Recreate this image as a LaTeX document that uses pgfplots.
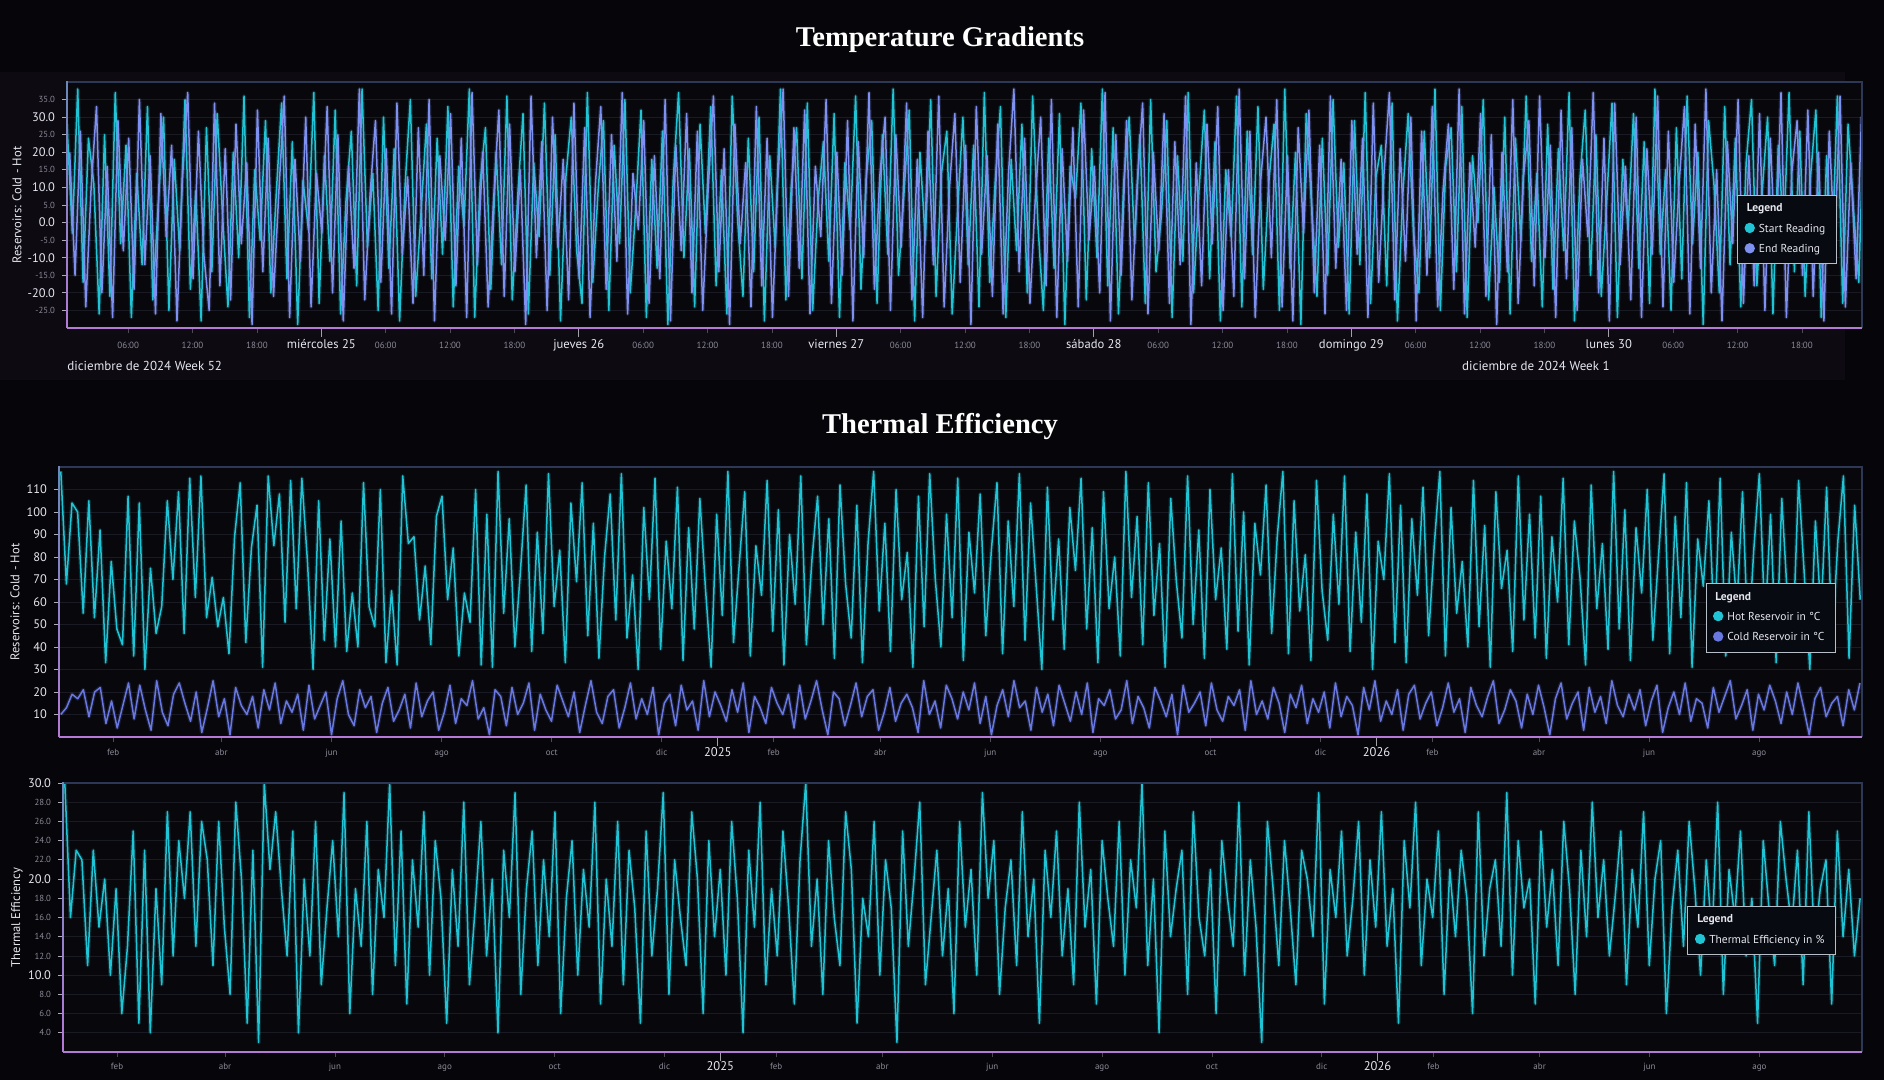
\documentclass[border=0pt]{standalone}
\usepackage{fontspec}
\setmainfont{Liberation Serif}
\setsansfont{PT Sans}
\usepackage{pgfplots}
\usepackage{pgfplotstable}
\pgfplotsset{compat=1.18}

\definecolor{bg}{HTML}{060509}
\definecolor{plotbg}{HTML}{08070C}
\definecolor{panel}{HTML}{0D0A12}
\definecolor{hotc}{HTML}{20C4D4}
\definecolor{endc}{HTML}{7E90F0}
\definecolor{coldc}{HTML}{6878E0}
\definecolor{dimt}{HTML}{8C8A98}
\definecolor{brt}{HTML}{E6E6EE}
\definecolor{framec}{HTML}{2C3856}
\definecolor{leftc}{HTML}{6A88B8}
\definecolor{pinkc}{HTML}{B47AD6}
\definecolor{gridc}{HTML}{1A1A24}
\definecolor{legbg}{HTML}{070A10}
\definecolor{legbd}{HTML}{B8BEC8}

\newcommand\mj[1]{{\color{brt}\fontsize{6.2}{7}\selectfont #1}}
\newcommand\mn[1]{{\color{dimt}\fontsize{4.4}{5}\selectfont #1}}

% Temperature Gradients: Start Reading
\pgfplotstableread[row sep=\\]{
y\\
28\\-3\\38\\-17\\24\\11\\-26\\25\\-21\\37\\-6\\22\\
-27\\14\\-12\\33\\-22\\5\\30\\-25\\18\\-8\\35\\-19\\
9\\-28\\27\\-14\\31\\2\\-24\\20\\-10\\36\\-27\\15\\
-5\\29\\-20\\8\\34\\-16\\23\\-29\\12\\-2\\37\\-23\\
19\\-11\\32\\-26\\6\\26\\-18\\38\\-7\\14\\-25\\30\\
-13\\21\\-28\\10\\35\\-21\\3\\28\\-16\\24\\-9\\33\\
-24\\16\\-1\\38\\-27\\11\\27\\-19\\20\\-12\\36\\-22\\
7\\31\\-26\\17\\-4\\34\\-15\\25\\-28\\13\\30\\-8\\
-23\\37\\-17\\9\\29\\-25\\22\\-6\\35\\-20\\4\\32\\
-27\\18\\-13\\26\\-29\\12\\37\\-10\\21\\-24\\28\\-3\\
33\\-18\\15\\-26\\36\\1\\-21\\24\\-14\\30\\-28\\19\\
-7\\38\\-22\\10\\27\\-16\\34\\-25\\6\\23\\-11\\31\\
-27\\17\\-2\\36\\-19\\13\\29\\-23\\25\\-9\\38\\-15\\
8\\32\\-28\\20\\-5\\35\\-21\\14\\26\\-26\\3\\30\\
-12\\22\\-24\\37\\-17\\11\\33\\-27\\18\\-8\\28\\-20\\
36\\-1\\-25\\24\\-13\\31\\-29\\16\\7\\34\\-22\\21\\
-10\\38\\-18\\27\\-26\\12\\30\\-6\\25\\-23\\35\\-14\\
2\\29\\-27\\19\\-11\\37\\-20\\9\\32\\-16\\23\\-28\\
15\\-4\\36\\-24\\26\\-9\\33\\-19\\11\\28\\-25\\38\\
-13\\20\\-29\\31\\5\\-21\\24\\-15\\35\\-7\\17\\-26\\
29\\-12\\37\\-23\\13\\22\\-18\\34\\-28\\8\\31\\-3\\
-20\\26\\-10\\38\\-25\\16\\27\\-14\\33\\-27\\19\\0\\
35\\-22\\10\\-17\\30\\-26\\24\\-5\\36\\-11\\14\\-24\\
28\\-19\\21\\-8\\37\\-28\\12\\32\\-15\\25\\-21\\6\\
34\\-27\\18\\-2\\31\\-13\\23\\-23\\38\\-9\\15\\-25\\
27\\-16\\36\\-6\\20\\-29\\29\\11\\-20\\33\\-12\\24\\
-24\\17\\35\\-18\\9\\30\\-26\\22\\-4\\37\\-14\\26\\
-21\\13\\32\\-27\\19\\-10\\36\\-23\\28\\4\\-17\\34\\
}\tA

% Temperature Gradients: End Reading
\pgfplotstableread[row sep=\\]{
y\\
20\\-15\\26\\-24\\10\\33\\-20\\16\\-27\\29\\-8\\24\\
-19\\35\\-12\\19\\-26\\31\\-4\\22\\-28\\12\\37\\-16\\
26\\-9\\-25\\34\\-18\\21\\-22\\28\\-6\\17\\-29\\32\\
-14\\24\\-21\\9\\36\\-27\\18\\-11\\30\\-24\\14\\-3\\
33\\-20\\25\\-28\\16\\-13\\38\\-22\\8\\29\\-17\\21\\
-26\\34\\-9\\13\\-23\\27\\-15\\35\\-28\\19\\-5\\31\\
-18\\24\\-27\\37\\-12\\20\\-24\\6\\32\\-21\\28\\-14\\
15\\-29\\36\\-10\\23\\-25\\30\\-7\\18\\-22\\34\\-16\\
27\\-27\\11\\33\\-19\\25\\-11\\37\\-26\\14\\-2\\29\\
-23\\19\\-16\\35\\-28\\22\\-8\\31\\-20\\26\\-25\\9\\
36\\-14\\21\\-29\\28\\-6\\17\\-24\\33\\-18\\24\\-27\\
12\\38\\-21\\27\\-13\\32\\-26\\16\\-4\\35\\-23\\20\\
-15\\29\\-28\\23\\-10\\37\\-19\\13\\30\\-25\\25\\-7\\
34\\-22\\18\\-27\\26\\-12\\36\\-24\\10\\31\\-17\\22\\
-29\\33\\-9\\19\\-21\\28\\-26\\14\\38\\-14\\24\\-23\\
7\\30\\-18\\35\\-27\\21\\-11\\27\\-24\\32\\-5\\16\\
-20\\37\\-28\\25\\-15\\29\\-22\\11\\34\\-26\\20\\-8\\
31\\-23\\23\\-12\\36\\-29\\17\\-18\\28\\-6\\33\\-25\\
15\\-21\\38\\-16\\26\\-27\\12\\30\\-10\\35\\-24\\19\\
-28\\27\\-3\\32\\-20\\22\\-26\\36\\-13\\18\\-25\\29\\
-9\\24\\-27\\34\\-17\\14\\37\\-22\\21\\-11\\30\\-28\\
26\\-15\\33\\-24\\9\\28\\-19\\38\\-26\\17\\-7\\31\\
-21\\25\\-29\\20\\-14\\35\\-23\\13\\29\\-18\\36\\-10\\
22\\-27\\32\\-16\\27\\-25\\18\\-4\\37\\-20\\24\\-28\\
34\\-12\\16\\-22\\30\\-27\\21\\-9\\36\\-24\\26\\-17\\
11\\33\\-26\\28\\-13\\38\\-20\\15\\-28\\23\\-6\\35\\
-23\\19\\-18\\31\\-25\\24\\-11\\37\\-27\\14\\29\\-15\\
32\\-21\\20\\-28\\26\\-8\\36\\-24\\17\\-16\\30\\-22\\
}\tB

% Hot Reservoir
\pgfplotstableread[row sep=\\]{
y\\
118\\68\\104\\100\\55\\105\\53\\92\\33\\78\\48\\41\\
107\\36\\104\\30\\75\\46\\58\\105\\70\\109\\46\\115\\
62\\116\\53\\71\\49\\62\\37\\89\\113\\42\\84\\103\\
31\\116\\85\\108\\51\\114\\57\\115\\78\\30\\105\\43\\
88\\40\\96\\38\\64\\40\\113\\58\\49\\110\\33\\65\\
32\\116\\86\\89\\52\\76\\41\\98\\107\\61\\84\\36\\
64\\51\\110\\32\\99\\31\\118\\55\\97\\40\\74\\112\\
38\\91\\46\\117\\58\\83\\33\\104\\69\\113\\45\\95\\
35\\80\\108\\52\\117\\44\\72\\30\\102\\61\\115\\39\\
87\\57\\111\\34\\93\\48\\106\\66\\31\\99\\54\\118\\
42\\76\\109\\36\\85\\63\\114\\47\\101\\32\\90\\59\\
116\\41\\79\\107\\50\\97\\35\\112\\68\\44\\103\\33\\
86\\118\\56\\95\\38\\110\\61\\82\\31\\107\\49\\117\\
70\\40\\99\\53\\115\\34\\91\\64\\108\\45\\83\\113\\
37\\96\\58\\117\\43\\104\\67\\30\\111\\52\\88\\39\\
102\\74\\115\\48\\93\\33\\109\\57\\80\\36\\118\\62\\
98\\41\\113\\54\\86\\31\\106\\69\\44\\116\\50\\92\\
35\\110\\61\\84\\39\\117\\47\\100\\32\\95\\72\\112\\
46\\89\\118\\37\\105\\56\\81\\34\\114\\65\\43\\99\\
59\\116\\38\\91\\51\\108\\30\\87\\70\\117\\42\\103\\
33\\97\\63\\111\\45\\85\\118\\36\\102\\55\\78\\40\\
114\\49\\94\\31\\109\\66\\83\\38\\116\\52\\99\\44\\
107\\35\\89\\60\\115\\41\\96\\71\\32\\112\\57\\86\\
39\\118\\48\\101\\34\\93\\64\\110\\43\\80\\117\\37\\
98\\53\\113\\31\\88\\67\\105\\46\\115\\36\\91\\58\\
109\\40\\83\\117\\50\\99\\33\\106\\62\\45\\114\\73\\
30\\96\\55\\111\\42\\87\\116\\35\\103\\61\\
}\tH

% Cold Reservoir
\pgfplotstableread[row sep=\\]{
y\\
10\\13\\19\\17\\21\\9\\20\\22\\6\\16\\4\\14\\
24\\8\\23\\12\\3\\25\\11\\5\\19\\24\\15\\7\\
20\\2\\13\\25\\9\\17\\1\\22\\14\\10\\18\\4\\
21\\12\\24\\6\\16\\11\\19\\3\\23\\8\\14\\20\\
1\\17\\25\\10\\5\\21\\13\\18\\2\\15\\22\\7\\
12\\19\\4\\24\\9\\16\\20\\3\\11\\23\\6\\17\\
14\\25\\8\\13\\1\\21\\18\\5\\22\\10\\15\\24\\
3\\19\\12\\7\\23\\16\\9\\20\\2\\14\\25\\11\\
6\\18\\21\\4\\13\\24\\8\\17\\10\\22\\1\\15\\
19\\5\\23\\12\\16\\3\\25\\9\\20\\14\\7\\21\\
11\\24\\2\\18\\13\\6\\22\\15\\10\\19\\4\\23\\
8\\16\\25\\12\\1\\20\\17\\5\\14\\24\\9\\18\\
21\\3\\11\\22\\7\\15\\19\\13\\2\\25\\10\\16\\
4\\23\\17\\8\\20\\12\\24\\6\\18\\1\\14\\21\\
9\\25\\13\\16\\3\\22\\11\\19\\5\\23\\15\\7\\
20\\10\\24\\2\\17\\14\\21\\8\\12\\25\\6\\18\\
13\\4\\22\\16\\9\\19\\1\\23\\11\\15\\20\\5\\
24\\12\\7\\18\\14\\21\\3\\25\\10\\16\\8\\22\\
15\\2\\19\\13\\23\\6\\17\\11\\20\\4\\24\\9\\
18\\14\\1\\22\\12\\25\\7\\16\\10\\21\\3\\19\\
23\\8\\15\\20\\5\\13\\24\\11\\17\\2\\22\\14\\
9\\18\\25\\6\\12\\21\\16\\4\\19\\10\\23\\13\\
1\\17\\24\\8\\15\\20\\3\\22\\11\\18\\6\\25\\
14\\9\\19\\12\\21\\5\\16\\23\\2\\13\\20\\10\\
24\\7\\17\\15\\4\\22\\11\\18\\25\\8\\14\\21\\
3\\19\\12\\23\\16\\6\\20\\10\\24\\13\\1\\17\\
22\\9\\15\\18\\5\\21\\12\\24\\
}\tC

% Thermal Efficiency
\pgfplotstableread[row sep=\\]{
y\\
30\\16\\23\\22\\11\\23\\15\\20\\10\\19\\6\\13\\
25\\5\\23\\4\\19\\9\\27\\12\\24\\18\\27\\13\\
26\\22\\11\\26\\15\\8\\28\\20\\5\\23\\3\\30\\
21\\27\\19\\12\\25\\4\\20\\12\\26\\9\\17\\24\\
14\\29\\6\\19\\13\\26\\8\\21\\16\\30\\11\\25\\
7\\22\\15\\27\\10\\24\\18\\5\\21\\13\\28\\9\\
17\\26\\12\\20\\4\\23\\16\\29\\8\\19\\25\\11\\
22\\14\\27\\6\\18\\24\\10\\21\\15\\28\\7\\20\\
13\\26\\9\\23\\17\\5\\25\\12\\19\\29\\8\\22\\
16\\11\\27\\20\\6\\24\\14\\21\\10\\26\\18\\4\\
23\\15\\28\\9\\19\\12\\25\\17\\7\\22\\30\\13\\
20\\8\\24\\16\\11\\27\\21\\5\\18\\14\\26\\10\\
22\\17\\3\\25\\13\\20\\28\\9\\16\\23\\12\\19\\
6\\26\\15\\21\\10\\29\\18\\24\\8\\17\\22\\11\\
27\\14\\20\\5\\23\\16\\25\\12\\19\\9\\28\\15\\
21\\7\\24\\18\\13\\26\\10\\22\\17\\30\\11\\20\\
4\\25\\14\\19\\23\\8\\27\\16\\12\\21\\6\\24\\
18\\13\\28\\10\\22\\15\\3\\26\\19\\11\\24\\17\\
9\\23\\20\\14\\29\\7\\21\\16\\25\\12\\18\\26\\
10\\22\\15\\27\\13\\19\\5\\24\\17\\28\\11\\20\\
16\\25\\8\\21\\14\\23\\18\\6\\27\\12\\19\\22\\
13\\29\\10\\24\\17\\20\\7\\25\\15\\21\\11\\26\\
19\\8\\23\\14\\28\\16\\22\\12\\18\\25\\9\\21\\
15\\27\\11\\20\\24\\6\\17\\23\\13\\26\\19\\10\\
22\\14\\28\\8\\21\\16\\25\\12\\18\\5\\24\\17\\
11\\26\\20\\15\\23\\9\\27\\13\\19\\22\\7\\25\\
14\\21\\12\\18\\
}\tE

\pgfplotsset{
  darkax/.style={
    scale only axis, anchor=south west,
    axis line style={draw=none},
    axis background/.style={fill=plotbg},
    tick pos=left, tick align=outside,
    major tick length=2.5pt,
    xtick style={draw=dimt!55!black, line width=0.4pt},
    ytick style={draw=brt!75!black, line width=0.4pt},
    ymajorgrids, grid style={draw=gridc, line width=0.4pt},
    /pgf/number format/assume math mode=true,
    ticklabel style={font=\sffamily},
    xticklabel style={font=\sffamily\fontsize{4.5}{5}\selectfont, text=dimt, anchor=base},
    ylabel style={font=\sffamily\fontsize{6.3}{7}\selectfont, text=brt},
    legend cell align=left,
    legend image code/.code={\fill[##1] (0.06cm,0.03cm) circle (2.2pt);},
    legend style={fill=legbg, draw=legbd, line width=0.5pt, text=brt,
      font=\sffamily\fontsize{5.75}{7}\selectfont, inner xsep=3.5pt, inner ysep=2.2pt,
      row sep=0.6pt, anchor=north east},
    every axis plot/.append style={line join=round},
    after end axis/.append code={
      \draw[framec, line width=0.6pt] (rel axis cs:0,1) -- (rel axis cs:1,1) -- (rel axis cs:1,0);
      \shade[top color=leftc, bottom color=pinkc] ([xshift=-0.45pt]rel axis cs:0,0) rectangle ([xshift=0.45pt]rel axis cs:0,1);
      \draw[pinkc, line width=0.9pt] (rel axis cs:0,0) -- (rel axis cs:1,0);
    },
  },
}

\begin{document}
\begin{tikzpicture}
\useasboundingbox (0,0) rectangle (942pt,540pt);
\fill[bg] (0,0) rectangle (942pt,540pt);
\fill[panel] (0pt,350pt) rectangle (922.5pt,504pt);

\node[font=\bfseries\fontsize{14.3}{16}\selectfont, text=white] at (470pt,520.2pt) {Temperature Gradients};
\node[font=\bfseries\fontsize{14.3}{16}\selectfont, text=white] at (470pt,326.7pt) {Thermal Efficiency};

% ---------- Temperature Gradients ----------
\begin{axis}[darkax, at={(33.5pt,376pt)}, width=897.5pt, height=123pt,
  xmin=0.3, xmax=167.6, ymin=-30, ymax=40,
  ytick={-25,-20,...,35},
  yticklabels={\mn{-25.0},\mj{-20.0},\mn{-15.0},\mj{-10.0},\mn{-5.0},\mj{0.0},\mn{5.0},\mj{10.0},\mn{15.0},\mj{20.0},\mn{25.0},\mj{30.0},\mn{35.0}},
  xtick={6,12,18,30,36,42,54,60,66,78,84,90,102,108,114,126,132,138,150,156,162},
  xticklabels={06:00,12:00,18:00,06:00,12:00,18:00,06:00,12:00,18:00,06:00,12:00,18:00,06:00,12:00,18:00,06:00,12:00,18:00,06:00,12:00,18:00},
  xticklabel style={yshift=-8pt},
  extra x ticks={24,48,72,96,120,144},
  extra x tick labels={miércoles 25,jueves 26,viernes 27,sábado 28,domingo 29,lunes 30},
  extra x tick style={major tick length=4.5pt, xtick style={draw=brt!70!black},
    xticklabel style={font=\sffamily\fontsize{6.3}{7}\selectfont, text=brt, yshift=2pt}},
  ylabel={Reservoirs: Cold - Hot},
  ylabel style={at={([xshift=-25pt]rel axis cs:0,0.5)}, anchor=center},
  legend style={at={(0.986,0.541)}},
  legend entries={\hspace*{-6pt}\textbf{Legend},Start Reading,End Reading},
  after end axis/.append code={
    \node[anchor=base west, inner sep=0pt, font=\sffamily\fontsize{6.5}{7}\selectfont, text=brt] at ([yshift=-21.5pt]rel axis cs:0,0) {diciembre de 2024 Week 52};
    \node[anchor=base east, inner sep=0pt, font=\sffamily\fontsize{6.5}{7}\selectfont, text=brt] at ([yshift=-21.5pt]rel axis cs:0.8596,0) {diciembre de 2024 Week 1};
  },
]
\addlegendimage{empty legend}
\addplot[hotc, opacity=0.18, line width=2pt, forget plot] table[x expr=\coordindex*0.5+0.3, y index=0] {\tA};
\addplot[hotc, line width=0.75pt] table[x expr=\coordindex*0.5+0.3, y index=0] {\tA};
\addplot[endc, opacity=0.18, line width=2pt, forget plot] table[x expr=\coordindex*0.5+0.55, y index=0] {\tB};
\addplot[endc, line width=0.75pt] table[x expr=\coordindex*0.5+0.55, y index=0] {\tB};
\end{axis}

% ---------- Hot / Cold reservoirs ----------
\begin{axis}[darkax, at={(29.5pt,171.5pt)}, width=901.5pt, height=135pt,
  xmin=-365, xmax=634, ymin=0, ymax=120,
  ytick={10,20,...,110},
  yticklabel style={font=\sffamily\fontsize{6.2}{7}\selectfont, text=brt},
  xtick={-335,-275,-214,-153,-92,-31,31,90,151,212,273,334,396,455,516,577},
  xticklabels={feb,abr,jun,ago,oct,dic,feb,abr,jun,ago,oct,dic,feb,abr,jun,ago},
  xticklabel style={yshift=-7pt},
  extra x ticks={0,365},
  extra x tick labels={2025,2026},
  extra x tick style={major tick length=4.5pt, xtick style={draw=brt!70!black},
    xticklabel style={font=\sffamily\fontsize{6.3}{7}\selectfont, text=brt, yshift=1.5pt}},
  ylabel={Reservoirs: Cold - Hot},
  ylabel style={at={([xshift=-22pt]rel axis cs:0,0.5)}, anchor=center},
  legend style={at={(0.9856,0.570)}},
  legend entries={\hspace*{-6pt}\textbf{Legend},Hot Reservoir in °C,Cold Reservoir in °C},
]
\addlegendimage{empty legend}
\addplot[hotc, opacity=0.18, line width=2pt, forget plot] table[x expr=-364+\coordindex*3.106, y index=0] {\tH};
\addplot[hotc, line width=0.75pt] table[x expr=-364+\coordindex*3.106, y index=0] {\tH};
\addplot[coldc, opacity=0.18, line width=2pt, forget plot] table[x expr=-364+\coordindex*3.125, y index=0] {\tC};
\addplot[coldc, line width=0.75pt] table[x expr=-364+\coordindex*3.125, y index=0] {\tC};
\end{axis}

% ---------- Thermal Efficiency ----------
\begin{axis}[darkax, at={(31.5pt,14pt)}, width=899.5pt, height=134.5pt,
  xmin=-365, xmax=634, ymin=2, ymax=30,
  ytick={4,6,...,30},
  yticklabels={\mn{4.0},\mn{6.0},\mn{8.0},\mj{10.0},\mn{12.0},\mn{14.0},\mn{16.0},\mn{18.0},\mj{20.0},\mn{22.0},\mn{24.0},\mn{26.0},\mn{28.0},\mj{30.0}},
  xtick={-335,-275,-214,-153,-92,-31,31,90,151,212,273,334,396,455,516,577},
  xticklabels={feb,abr,jun,ago,oct,dic,feb,abr,jun,ago,oct,dic,feb,abr,jun,ago},
  xticklabel style={yshift=-6.5pt},
  extra x ticks={0,365},
  extra x tick labels={2025,2026},
  extra x tick style={major tick length=4.5pt, xtick style={draw=brt!70!black},
    xticklabel style={font=\sffamily\fontsize{6.3}{7}\selectfont, text=brt, yshift=1.5pt}},
  ylabel={Thermal Efficiency},
  ylabel style={at={([xshift=-23pt]rel axis cs:0,0.5)}, anchor=center},
  legend style={at={(0.9855,0.543)}},
  legend entries={\hspace*{-6pt}\textbf{Legend},Thermal Efficiency in \%},
]
\addlegendimage{empty legend}
\addplot[hotc, opacity=0.18, line width=2pt, forget plot] table[x expr=-364+\coordindex*3.165, y index=0] {\tE};
\addplot[hotc, line width=0.75pt] table[x expr=-364+\coordindex*3.165, y index=0] {\tE};
\end{axis}
\end{tikzpicture}
\end{document}
